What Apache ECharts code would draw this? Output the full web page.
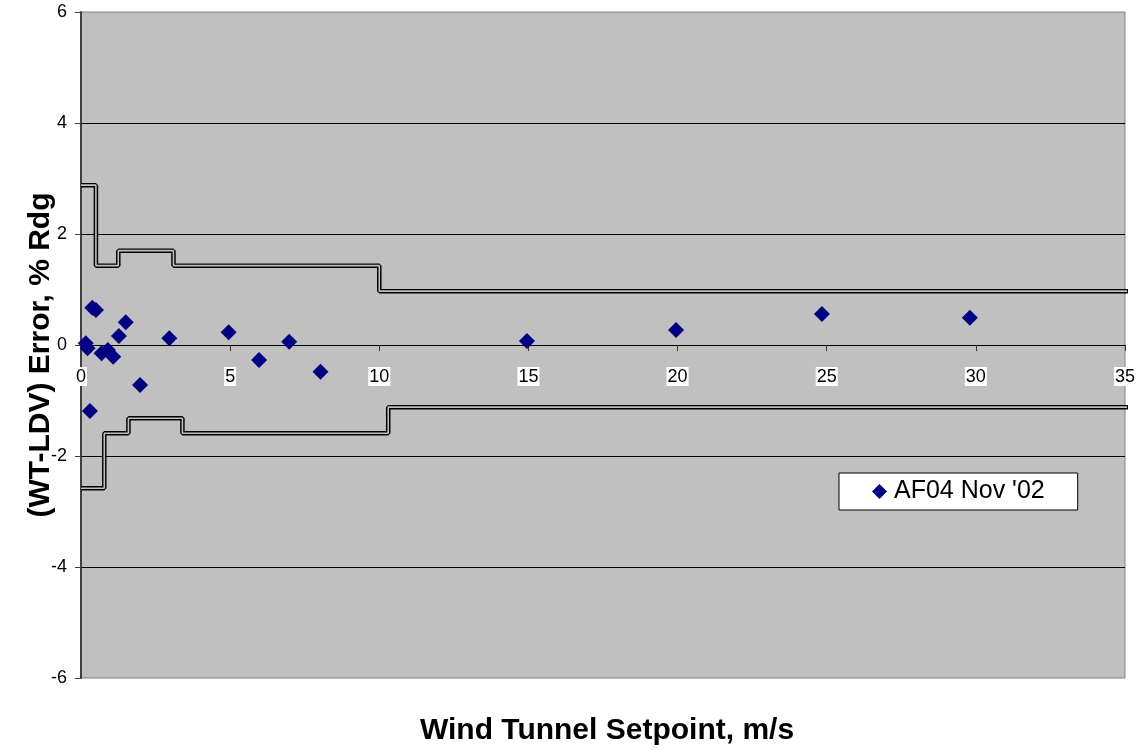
<!DOCTYPE html>
<html>
<head>
<meta charset="utf-8">
<script src="https://cdn.jsdelivr.net/npm/echarts@6/dist/echarts.min.js"></script>
<style>
html,body{margin:0;padding:0;background:#fff;}
#chart{width:1141px;height:750px;}
</style>
</head>
<body>
<div id="chart"></div>
<script>
// Measured points
const seriesName = "AF04 Nov '02";
const windX = [0.16, 0.22, 0.38, 0.5, 0.3, 0.69, 0.9, 1.08, 1.27, 1.5, 1.98, 2.96, 4.95, 5.97, 6.98, 8.03, 14.95, 19.95, 24.84, 29.8];
const errY  = [0.03, -0.06, 0.67, 0.63, -1.19, -0.15, -0.09, -0.21, 0.16, 0.41, -0.72, 0.12, 0.23, -0.27, 0.06, -0.48, 0.07, 0.27, 0.56, 0.49];

// Uncertainty envelope (step breakpoints)
const upperX = [0, 0.5, 1.25, 3.1, 10.0, 35.2];
const upperY = [2.88, 1.43, 1.7, 1.43, 0.97, 0.97];
const lowerX = [0, 0.78, 1.59, 3.4, 10.3, 35.2];
const lowerY = [-2.58, -1.59, -1.32, -1.59, -1.12, -1.12];

// Axis ticks
const yTicks = [-6, -4, -2, 0, 2, 4, 6];
const xTicks = [0, 5, 10, 15, 20, 25, 30, 35];

const FONT = "'Liberation Sans', Arial, sans-serif";
const zip = (xs, ys) => xs.map((x, i) => [x, ys[i]]);

function envelope(xs, ys) {
  const d = zip(xs, ys);
  return [
    { type: 'line', data: d, step: 'end', symbol: 'none', clip: false, silent: true,
      lineStyle: { color: '#000', width: 4.5 }, z: 3 },
    { type: 'line', data: d, step: 'end', symbol: 'none', clip: false, silent: true,
      lineStyle: { color: '#c0c0c0', width: 1.6 }, z: 4 }
  ];
}

const GRID_TOP = 12, GRID_BOTTOM = 72, H = 750;
const plotH = H - GRID_TOP - GRID_BOTTOM;
const yMin = yTicks[0], yMax = yTicks[yTicks.length - 1];
// distance from bottom edge of grid to y=0, computed from axis range
const zeroOffset = plotH * (0 - yMin) / (yMax - yMin);

const chart = echarts.init(document.getElementById('chart'), null, { renderer: 'canvas' });
chart.setOption({
  animation: false,
  backgroundColor: '#fff',
  grid: { left: 81, right: 16, top: GRID_TOP, bottom: GRID_BOTTOM, show: true,
          backgroundColor: '#c0c0c0', borderColor: '#808080', borderWidth: 1 },
  xAxis: {
    type: 'value', min: xTicks[0], max: xTicks[xTicks.length - 1], interval: 5,
    position: 'bottom', offset: -zeroOffset,
    axisLine: { onZero: false, lineStyle: { color: '#000', width: 1 } },
    axisTick: { show: true, length: 6, lineStyle: { color: '#333' } },
    axisLabel: { fontFamily: FONT, fontSize: 18, color: '#000', margin: 22,
                 backgroundColor: '#fff', padding: [1, 1, 0, 1] },
    splitLine: { show: false }
  },
  yAxis: {
    type: 'value', min: yMin, max: yMax, interval: 2,
    axisLine: { show: true, onZero: false, lineStyle: { color: '#404040', width: 2 } },
    axisTick: { show: true, length: 6, lineStyle: { color: '#404040' } },
    axisLabel: { fontFamily: FONT, fontSize: 18, color: '#000', margin: 14 },
    splitLine: { show: true, showMinLine: false, showMaxLine: false,
                 lineStyle: { color: '#000', width: 1 } }
  },
  legend: {
    data: [seriesName],
    left: 839, top: 473,
    orient: 'horizontal',
    backgroundColor: '#fff', borderColor: '#000', borderWidth: 1, borderRadius: 0,
    padding: [6, 33, 6, 33],
    icon: 'diamond', itemWidth: 15, itemHeight: 15, itemGap: 0,
    textStyle: { fontFamily: FONT, fontSize: 25, color: '#000', padding: [0, 0, 0, 2] }
  },
  graphic: [
    { type: 'text', x: 607, y: 731,
      style: { text: 'Wind Tunnel Setpoint, m/s', fill: '#000', textAlign: 'center',
               textVerticalAlign: 'middle', font: "bold 30px 'Liberation Sans', Arial, sans-serif" } },
    { type: 'text', x: 41, y: 355, rotation: Math.PI / 2,
      style: { text: '(WT-LDV) Error, % Rdg', fill: '#000', textAlign: 'center',
               textVerticalAlign: 'middle', font: "bold 30px 'Liberation Sans', Arial, sans-serif" } }
  ],
  series: [
    ...envelope(upperX, upperY),
    ...envelope(lowerX, lowerY),
    { name: seriesName, type: 'scatter', data: zip(windX, errY),
      symbol: 'diamond', symbolSize: 16,
      itemStyle: { color: '#000080', opacity: 1 }, z: 10 }
  ]
});
</script>
</body>
</html>
